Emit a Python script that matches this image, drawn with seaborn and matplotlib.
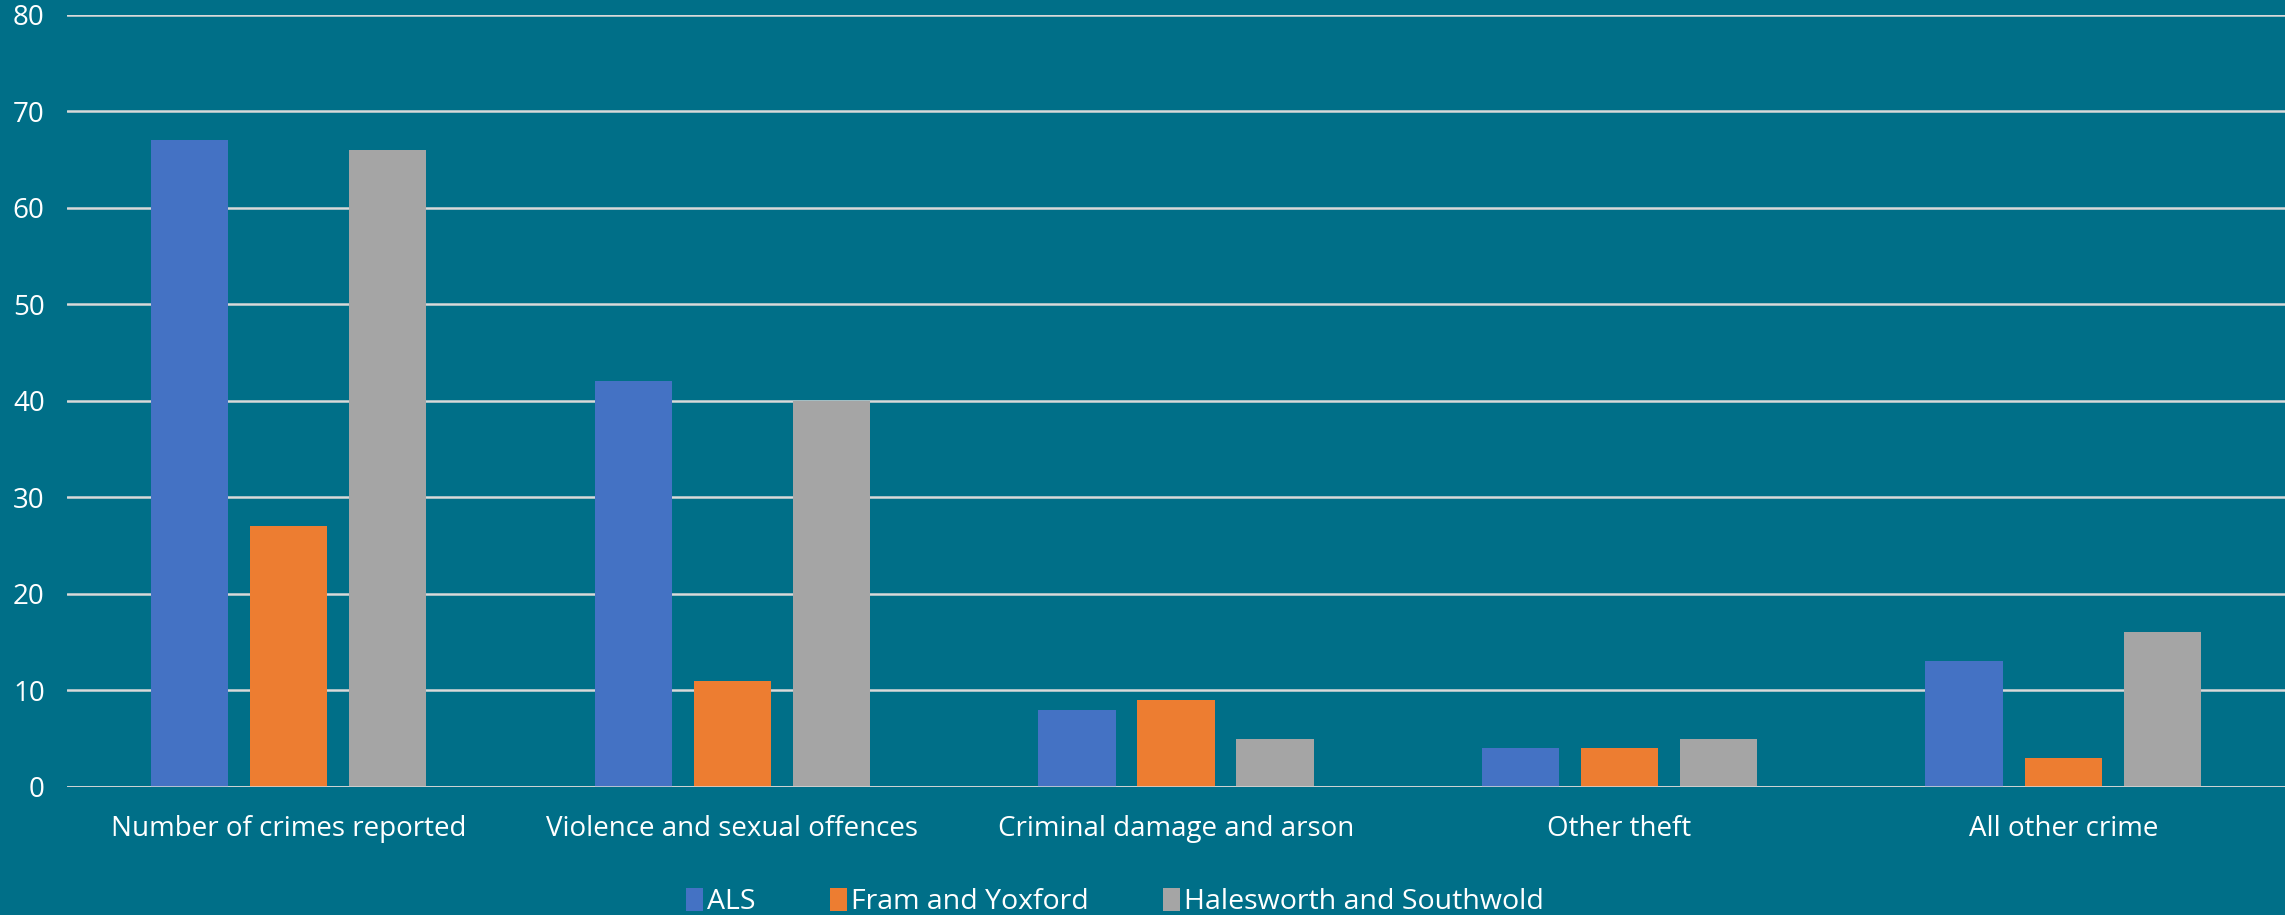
import numpy as np
import pandas as pd
import matplotlib.pyplot as plt
import seaborn as sns

categories = ["Number of crimes reported", "Violence and sexual offences",
              "Criminal damage and arson", "Other theft", "All other crime"]
areas = ["ALS", "Fram and Yoxford", "Halesworth and Southwold"]
als = [67, 42, 8, 4, 13]
fram = [27, 11, 9, 4, 3]
hales = [66, 40, 5, 5, 16]
yticks = [0, 10, 20, 30, 40, 50, 60, 70, 80]

df = pd.DataFrame({
    "category": categories * 3,
    "area": [areas[0]] * 5 + [areas[1]] * 5 + [areas[2]] * 5,
    "count": als + fram + hales,
})

bg = "#006F88"
palette = ["#4472C4", "#ED7D31", "#A5A5A5"]

sns.set_theme(style="white")
plt.rcParams["font.family"] = ["Open Sans", "DejaVu Sans"]

fig = plt.figure(figsize=(22.85, 9.15), dpi=100, facecolor=bg)
ax = fig.add_axes([0.0293, 0.140, 0.9707, 0.844])
ax.set_facecolor(bg)

sns.barplot(data=df, x="category", y="count", hue="area", palette=palette,
            width=0.67, gap=0.22, saturation=1, linewidth=0, edgecolor="none",
            ax=ax, zorder=3)

ax.set_ylim(0, 80)
ax.set_yticks(yticks)
ax.set_xlim(-0.5, 4.5)
ax.yaxis.grid(True, color="#D9D9D9", linewidth=1.8, zorder=0)
ax.axhline(0, color="#D9D9D9", linewidth=1.8, zorder=4)
for s in ax.spines.values():
    s.set_visible(False)
ax.tick_params(axis="both", length=0, colors="white", labelsize=20)
ax.tick_params(axis="x", pad=20)
ax.tick_params(axis="y", pad=16)
ax.set_xlabel("")
ax.set_ylabel("")

leg = ax.legend(loc="center", bbox_to_anchor=(0.4725, -0.149), ncol=3,
                frameon=False, fontsize=20.5, handlelength=0.6, handleheight=0.9,
                handletextpad=0.15, columnspacing=2.6)
for t in leg.get_texts():
    t.set_color("white")
for h in leg.legend_handles:
    h.set_edgecolor("none")

plt.savefig("out.png", dpi=100, facecolor=bg)
